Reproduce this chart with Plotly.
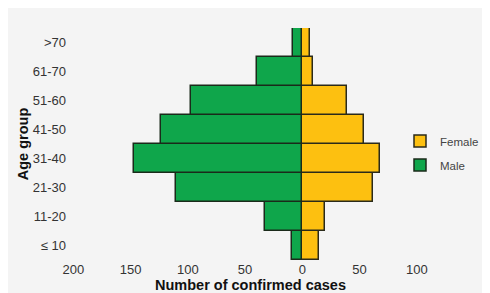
import plotly.graph_objects as go

age_groups = ["≤ 10", "11-20", "21-30", "31-40", "41-50", "51-60", "61-70", ">70"]
male = [9, 33, 110, 147, 123, 97, 40, 8]
female = [15, 20, 62, 68, 54, 39, 9, 7]
tick_vals = [-200, -150, -100, -50, 0, 50, 100]
tick_text = ["200", "150", "100", "50", "0", "50", "100"]

font = "Liberation Sans, Arial, sans-serif"

fig = go.Figure()
fig.add_trace(go.Bar(
    y=age_groups, x=female, orientation="h", name="Female",
    marker=dict(color="#fdc010", line=dict(color="#2a2a1a", width=1.5)),
    legendgroup="f",
))
fig.add_trace(go.Bar(
    y=age_groups, x=[-v for v in male], orientation="h", name="Male",
    marker=dict(color="#0fa64b", line=dict(color="#1a2a1a", width=1.5)),
    legendgroup="m",
))

fig.update_layout(
    width=490, height=293,
    margin=dict(l=59, r=64, t=20, b=41, autoexpand=False),
    barmode="relative", bargap=0,
    paper_bgcolor="#f4f4f4", plot_bgcolor="#f4f4f4",
    font=dict(family=font, size=13, color="#333333"),
    showlegend=True,
    legend=dict(xref="container", yref="container", x=0.80, y=0.505,
                xanchor="left", yanchor="middle",
                traceorder="grouped", tracegroupgap=5,
                font=dict(size=11.5, color="#444444"),
                bgcolor="rgba(0,0,0,0)", itemwidth=30),
    xaxis=dict(range=[-205.5, 115], tickvals=tick_vals, ticktext=tick_text,
               showgrid=False, zeroline=False, showline=False, ticks="",
               automargin=False,
               title=dict(text="<b>Number of confirmed cases</b>", standoff=1,
                          font=dict(size=14.5, color="#111111"))),
    yaxis=dict(showgrid=False, zeroline=False, showline=False, ticks="",
               ticklabelstandoff=0, automargin=False,
               title=dict(text="<b>Age group</b>", standoff=0,
                          font=dict(size=14.5, color="#111111"))),
)

fig.write_html("out.html")
